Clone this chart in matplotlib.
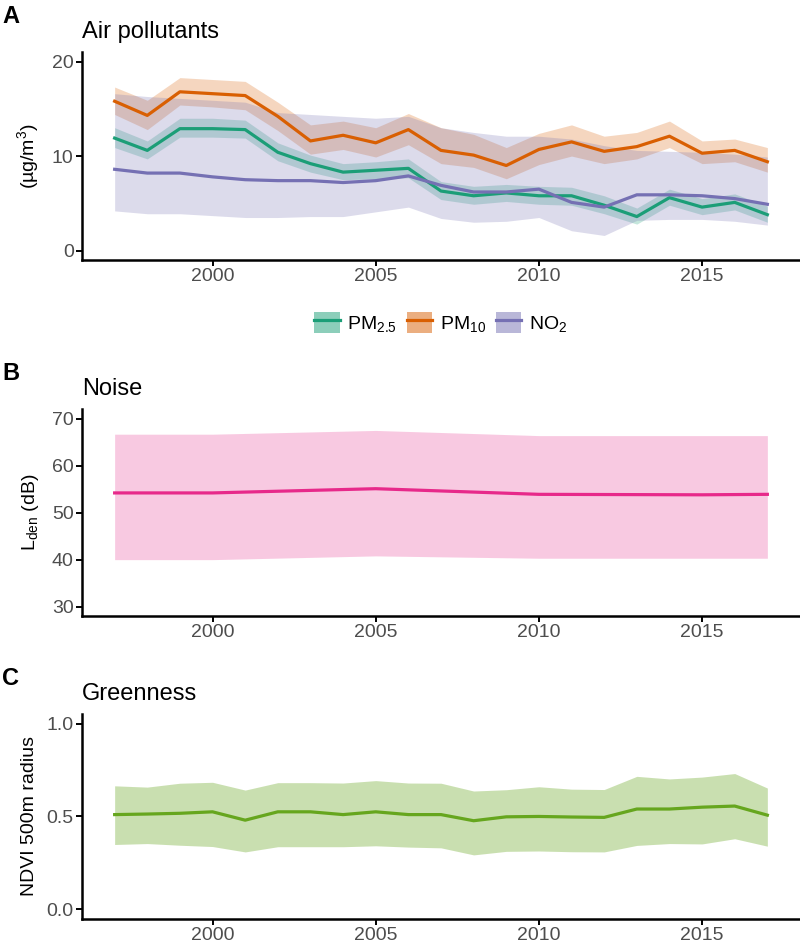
import numpy as np
import matplotlib
matplotlib.use('Agg')
import matplotlib.pyplot as plt
from matplotlib.patches import Patch
from matplotlib.lines import Line2D
from matplotlib.legend_handler import HandlerTuple

plt.rcParams['font.family'] = ['Liberation Sans', 'DejaVu Sans']
plt.rcParams['mathtext.fontset'] = 'custom'
plt.rcParams['mathtext.rm'] = 'Liberation Sans'
plt.rcParams['mathtext.it'] = 'Liberation Sans'

#Data
years = np.arange(1997, 2018)

pm25 = [11.9, 10.6, 12.9, 12.9, 12.8, 10.4, 9.2, 8.3, 8.5, 8.7, 6.3, 5.8, 6.1, 5.8, 5.8, 4.8, 3.6, 5.6, 4.6, 5.1, 3.8]
pm25_lo = [10.9, 9.7, 12.0, 12.0, 11.9, 9.5, 8.3, 7.5, 7.6, 7.7, 5.4, 4.9, 5.2, 4.9, 4.8, 3.9, 2.8, 4.8, 3.8, 4.3, 3.0]
pm25_hi = [13.0, 11.6, 14.0, 14.0, 13.8, 11.4, 10.1, 9.2, 9.4, 9.7, 7.3, 6.8, 7.0, 6.8, 6.7, 5.8, 4.5, 6.5, 5.5, 6.0, 4.7]

pm10 = [15.8, 14.3, 16.8, 16.6, 16.4, 14.2, 11.6, 12.2, 11.4, 12.8, 10.6, 10.1, 9.0, 10.7, 11.5, 10.5, 11.0, 12.1, 10.3, 10.6, 9.4]
pm10_lo = [14.4, 12.8, 15.4, 15.2, 14.9, 12.7, 10.2, 10.7, 9.9, 11.2, 9.2, 8.8, 7.6, 9.1, 10.0, 9.2, 9.7, 10.9, 9.2, 9.4, 8.3]
pm10_hi = [17.3, 15.9, 18.3, 18.1, 17.9, 15.7, 13.3, 13.7, 13.0, 14.5, 13.0, 12.3, 10.9, 12.4, 13.3, 12.1, 12.5, 13.7, 11.6, 11.8, 10.9]

no2 = [8.6, 8.2, 8.2, 7.8, 7.5, 7.4, 7.4, 7.2, 7.4, 7.9, 6.9, 6.2, 6.2, 6.5, 5.1, 4.6, 5.9, 5.9, 5.8, 5.5, 4.9]
no2_lo = [4.2, 3.9, 3.9, 3.7, 3.5, 3.5, 3.6, 3.6, 4.1, 4.6, 3.4, 3.0, 3.1, 3.5, 2.1, 1.6, 3.2, 3.3, 3.3, 3.1, 2.7]
no2_hi = [16.6, 16.3, 16.1, 15.9, 15.7, 14.6, 14.4, 14.2, 14.0, 14.2, 13.0, 12.5, 12.1, 12.1, 11.8, 11.1, 10.6, 10.5, 10.4, 10.2, 9.9]

noise_years = [1997, 2000, 2005, 2010, 2015, 2017]
noise = [54.2, 54.2, 55.1, 53.9, 53.8, 53.9]
noise_lo = [40.0, 40.0, 40.8, 40.3, 40.3, 40.3]
noise_hi = [66.7, 66.7, 67.5, 66.4, 66.4, 66.4]

ndvi = [0.51, 0.513, 0.517, 0.525, 0.48, 0.525, 0.525, 0.51, 0.525, 0.51, 0.51, 0.477, 0.498, 0.50, 0.497, 0.495, 0.54, 0.54, 0.55, 0.556, 0.507]
ndvi_lo = [0.349, 0.354, 0.345, 0.338, 0.309, 0.337, 0.337, 0.337, 0.342, 0.335, 0.331, 0.293, 0.312, 0.314, 0.31, 0.309, 0.344, 0.354, 0.352, 0.38, 0.34]
ndvi_hi = [0.665, 0.658, 0.679, 0.684, 0.642, 0.682, 0.682, 0.68, 0.693, 0.68, 0.679, 0.637, 0.644, 0.66, 0.647, 0.645, 0.716, 0.702, 0.712, 0.731, 0.653]

green, orange, purple = '#1B9E77', '#D95F02', '#7570B3'
pink, lime = '#E7298A', '#66A61E'

fig = plt.figure(figsize=(8, 9.47), dpi=100)
axA = fig.add_axes([0.1025, 0.7254, 0.8975, 0.2196])
axB = fig.add_axes([0.1025, 0.3495, 0.8975, 0.2183])
axC = fig.add_axes([0.1025, 0.0300, 0.8975, 0.2157])

lw = 2.3

#Panel A: air pollutants
for lo, hi, c in [(pm25_lo, pm25_hi, green), (pm10_lo, pm10_hi, orange), (no2_lo, no2_hi, purple)]:
    axA.fill_between(years, lo, hi, color=c, alpha=0.25, linewidth=0)
for vals, c in [(pm25, green), (pm10, orange), (no2, purple)]:
    axA.plot(years, vals, color=c, linewidth=lw)
axA.set_ylim(-1, 21)
axA.set_yticks([0, 10, 20])
axA.set_ylabel('(µg/m$^3$)', fontsize=14, labelpad=8)

#Panel B: noise
axB.fill_between(noise_years, noise_lo, noise_hi, color=pink, alpha=0.25, linewidth=0)
axB.plot(noise_years, noise, color=pink, linewidth=lw)
axB.set_ylim(28, 72)
axB.set_yticks([30, 40, 50, 60, 70])
axB.set_ylabel('L$_{den}$ (dB)', fontsize=14, labelpad=8)

#Panel C: greenness
axC.fill_between(years, ndvi_lo, ndvi_hi, color=lime, alpha=0.35, linewidth=0)
axC.plot(years, ndvi, color=lime, linewidth=lw)
axC.set_ylim(-0.05, 1.05)
axC.set_yticks([0, 0.5, 1.0])
axC.set_yticklabels(['0.0', '0.5', '1.0'])
axC.set_ylabel('NDVI 500m radius', fontsize=14, labelpad=6)

for ax, letter, title in [(axA, 'A', 'Air pollutants'), (axB, 'B', 'Noise'), (axC, 'C', 'Greenness')]:
    ax.set_xlim(1996, 2018)
    ax.set_xticks([2000, 2005, 2010, 2015])
    for s in ['top', 'right']:
        ax.spines[s].set_visible(False)
    for s in ['left', 'bottom']:
        ax.spines[s].set_linewidth(1.8)
    ax.tick_params(length=4, width=1.4, labelsize=14, labelcolor='#4d4d4d', pad=2)
    ax.set_title(title, loc='left', fontsize=17, pad=10)
    pos = ax.get_position()
    fig.text(0.003, pos.y1 + 0.038, letter, fontsize=17, fontweight='bold', va='center', ha='left')

#Legend under panel A
handles = [(Patch(facecolor=c, alpha=0.5, linewidth=0), Line2D([], [], color=c, linewidth=lw)) for c in [green, orange, purple]]
fig.legend(handles, ['PM$_{2.5}$', 'PM$_{10}$', 'NO$_2$'], loc='center', bbox_to_anchor=(0.551, 0.659),
           ncol=3, frameon=False, fontsize=14, handler_map={tuple: HandlerTuple()},
           handlelength=1.3, handleheight=1.3, columnspacing=0.5, handletextpad=0.4)

plt.savefig('out.png', dpi=100)
